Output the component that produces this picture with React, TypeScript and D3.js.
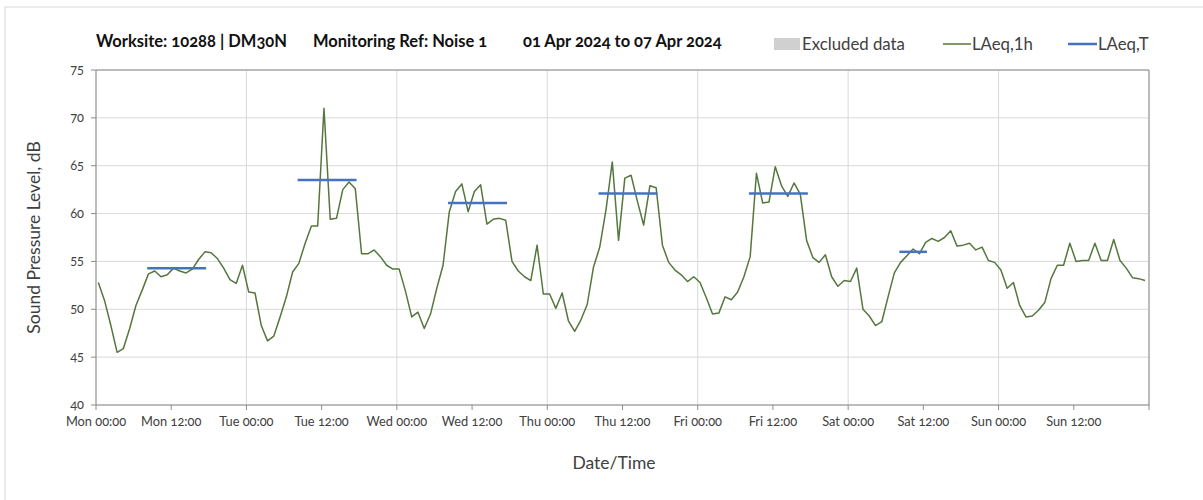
import React from "react";
import * as d3 from "d3";

// ---------- data ----------
const TITLE_PARTS = [
  "Worksite: 10288 | DM30N",
  "Monitoring Ref: Noise 1",
  "01 Apr 2024 to 07 Apr 2024",
];
const DAY_NAMES = ["Mon", "Tue", "Wed", "Thu", "Fri", "Sat", "Sun"];
const TICK_HOURS = ["00:00", "12:00"];
const Y_TICKS = [40, 45, 50, 55, 60, 65, 70, 75];

// hourly LAeq,1h values, Mon 00:00 .. Sun 23:00
const LAEQ_1H = [
  // Mon
  52.8, 50.9, 48.3, 45.5, 45.9, 48.0, 50.4, 52.0, 53.7, 54.0, 53.4, 53.6,
  54.3, 54.0, 53.8, 54.2, 55.2, 56.0, 55.9, 55.3, 54.3, 53.1, 52.7, 54.6,
  // Tue
  51.8, 51.7, 48.3, 46.7, 47.2, 49.2, 51.3, 53.9, 54.8, 56.9, 58.7, 58.7,
  71.0, 59.4, 59.5, 62.5, 63.3, 62.6, 55.8, 55.8, 56.2, 55.5, 54.6, 54.2,
  // Wed
  54.2, 51.9, 49.2, 49.7, 48.0, 49.5, 52.2, 54.6, 60.2, 62.3, 63.1, 60.2,
  62.3, 63.0, 58.9, 59.4, 59.5, 59.3, 55.0, 54.0, 53.4, 53.0, 56.7, 51.6,
  // Thu
  51.6, 50.1, 51.7, 48.8, 47.7, 48.9, 50.5, 54.4, 56.5, 60.4, 65.4, 57.2,
  63.7, 64.0, 61.3, 58.8, 62.9, 62.7, 56.7, 54.9, 54.1, 53.6, 52.9, 53.4,
  // Fri
  52.8, 51.2, 49.5, 49.6, 51.3, 51.0, 51.8, 53.4, 55.5, 64.2, 61.1, 61.2,
  64.9, 62.9, 61.8, 63.2, 62.0, 57.2, 55.4, 54.9, 55.7, 53.4, 52.4, 53.0,
  // Sat
  52.9, 54.3, 50.0, 49.3, 48.3, 48.7, 51.3, 53.8, 54.9, 55.6, 56.3, 55.8,
  57.0, 57.4, 57.1, 57.5, 58.2, 56.6, 56.7, 56.9, 56.2, 56.5, 55.1, 54.9,
  // Sun
  54.1, 52.2, 52.8, 50.4, 49.2, 49.3, 49.9, 50.7, 53.2, 54.6, 54.6, 56.9,
  55.0, 55.1, 55.1, 56.9, 55.1, 55.1, 57.3, 55.1, 54.3, 53.3, 53.2, 53.0,
];

// LAeq,T periods (day index, first and last hourly value, level)
const T_DAY = [0, 1, 2, 3, 4, 5];
const T_FROM_HOUR = [8, 8, 8, 8, 8, 8];
const T_TO_HOUR = [17, 17, 17, 17, 17, 12];
const T_LEVEL = [54.3, 63.5, 61.1, 62.1, 62.1, 56.0];

const LEGEND_LABELS = ["Excluded data", "LAeq,1h", "LAeq,T"];

// ---------- layout / style ----------
const W = 1203;
const H = 500;
const M = { left: 96, right: 1149, top: 70, bottom: 405 };
const POINT_OFFSET = 0.37; // hourly value position inside the hour
const FONT = "Lato, 'Noto Sans', sans-serif";
const GREEN = "#55773d";
const BLUE = "#4472c4";
const GRID = "#d9d9d9";
const AXIS = "#8c8c8c";
const TXT = "#404040";

export default function App() {
  const x = d3.scaleLinear().domain([0, 168]).range([M.left, M.right]);
  const y = d3.scaleLinear().domain([40, 75]).range([M.bottom, M.top]);

  const line = d3
    .line<number>()
    .x((_, i) => x(i + POINT_OFFSET))
    .y((d) => y(d));

  const dayTicks = d3.range(0, 8).map((d) => d * 24);
  const halfTicks = d3.range(0, 14).map((d) => d * 12);

  return (
    <svg
      width={W}
      height={H}
      style={{ position: "absolute", left: 0, top: 0, background: "#fff" }}
      fontFamily={FONT}
    >
      {/* outer frame */}
      <rect x={5} y={7} width={W} height={H} fill="#fff" stroke="#d9d9d9" />

      {/* title */}
      <g fontWeight="bold" fontSize={16.5} fill="#111" style={{ fontVariantNumeric: "oldstyle-nums" }}>
        <text x={96} y={47}>{TITLE_PARTS[0]}</text>
        <text x={313} y={47}>{TITLE_PARTS[1]}</text>
        <text x={523} y={47}>{TITLE_PARTS[2]}</text>
      </g>

      {/* legend */}
      <g fontSize={16.8} fill={TXT}>
        <rect x={774} y={38} width={26} height={12} fill="#d0d0d0" />
        <text x={802} y={50}>{LEGEND_LABELS[0]}</text>
        <line x1={943} x2={971} y1={44} y2={44} stroke={GREEN} strokeWidth={1.5} />
        <text x={972} y={50}>{LEGEND_LABELS[1]}</text>
        <line x1={1068} x2={1097} y1={44} y2={44} stroke={BLUE} strokeWidth={2.5} />
        <text x={1098} y={50}>{LEGEND_LABELS[2]}</text>
      </g>

      {/* horizontal grid */}
      {Y_TICKS.map((v) => (
        <line key={"hg" + v} x1={M.left} x2={M.right} y1={y(v)} y2={y(v)} stroke={GRID} strokeWidth={1} />
      ))}
      {/* vertical grid at day boundaries */}
      {dayTicks.map((h) => (
        <line key={"vg" + h} x1={x(h)} x2={x(h)} y1={M.top} y2={M.bottom} stroke={GRID} strokeWidth={1} />
      ))}

      {/* plot border */}
      <line x1={M.left} x2={M.right} y1={M.top} y2={M.top} stroke={AXIS} />
      <line x1={M.right} x2={M.right} y1={M.top} y2={M.bottom} stroke={AXIS} />
      <line x1={M.left} x2={M.left} y1={M.top} y2={M.bottom} stroke={AXIS} />
      <line x1={M.left} x2={M.right} y1={M.bottom} y2={M.bottom} stroke={AXIS} />

      {/* y ticks */}
      <g fontSize={12.8} fill={TXT} textAnchor="end" style={{ fontVariantNumeric: "oldstyle-nums" }}>
        {Y_TICKS.map((v) => (
          <g key={"yt" + v}>
            <line x1={M.left - 5} x2={M.left} y1={y(v)} y2={y(v)} stroke={AXIS} />
            <text x={M.left - 12} y={y(v) + 4}>{v}</text>
          </g>
        ))}
      </g>

      {/* x ticks */}
      <g fontSize={12.8} fill={TXT} textAnchor="middle" style={{ fontVariantNumeric: "oldstyle-nums" }}>
        {halfTicks.map((h) => (
          <g key={"xt" + h}>
            <line x1={x(h)} x2={x(h)} y1={M.bottom} y2={M.bottom + 5} stroke={AXIS} />
            {h < 168 && (
              <text x={x(h)} y={M.bottom + 21}>
                {DAY_NAMES[Math.floor(h / 24)] + " " + TICK_HOURS[(h / 12) % 2]}
              </text>
            )}
          </g>
        ))}
        <line x1={x(168)} x2={x(168)} y1={M.bottom} y2={M.bottom + 5} stroke={AXIS} />
      </g>

      {/* axis titles */}
      <text
        transform={`translate(40, ${(M.top + M.bottom) / 2}) rotate(-90)`}
        textAnchor="middle"
        fontSize={17.5}
        fill={TXT}
      >
        Sound Pressure Level, dB
      </text>
      <text x={614} y={469} textAnchor="middle" fontSize={17.5} fill={TXT}>
        Date/Time
      </text>

      {/* LAeq,1h */}
      <path d={line(LAEQ_1H) || ""} fill="none" stroke={GREEN} strokeWidth={1.5} strokeLinejoin="round" />

      {/* LAeq,T */}
      {T_DAY.map((d, k) => (
        <line
          key={"t" + k}
          x1={x(d * 24 + T_FROM_HOUR[k] + POINT_OFFSET)}
          x2={x(d * 24 + T_TO_HOUR[k] + POINT_OFFSET)}
          y1={y(T_LEVEL[k])}
          y2={y(T_LEVEL[k])}
          stroke={BLUE}
          strokeWidth={2.5}
          strokeLinecap="square"
        />
      ))}
    </svg>
  );
}
